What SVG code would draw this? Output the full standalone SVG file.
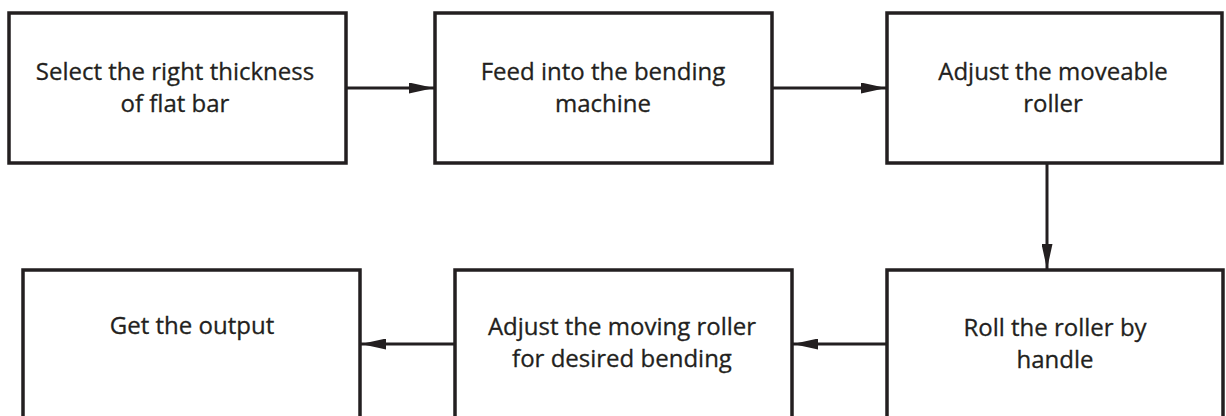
<svg xmlns="http://www.w3.org/2000/svg" width="1226" height="416" viewBox="0 0 1226 416">
<style>
.box{fill:#fff;stroke:#231f20;stroke-width:3.5}
.t{font-family:"Open Sans","Noto Sans",sans-serif;font-size:24px;fill:#231f20;stroke:#231f20;stroke-width:0.3;text-anchor:middle}
.c{stroke:#231f20;stroke-width:3;fill:none;marker-end:url(#ah)}
</style>
<defs>
<marker id="ah" viewBox="0 0 25 11" refX="25" refY="5.5" markerWidth="25" markerHeight="11" markerUnits="userSpaceOnUse" orient="auto">
<path d="M0,0 L25,5.5 L0,11 Z" fill="#231f20"/>
</marker>
</defs>
<rect width="1226" height="416" fill="#fff"/>
<g id="n1"><rect class="box" x="9" y="13" width="337" height="150"/>
<text class="t" x="175" y="80">Select the right thickness</text><text class="t" x="175" y="112">of flat bar</text></g>
<g id="n2"><rect class="box" x="435" y="13" width="337" height="150"/>
<text class="t" x="603" y="80">Feed into the bending</text><text class="t" x="603" y="112">machine</text></g>
<g id="n3"><rect class="box" x="887" y="13" width="335" height="150"/>
<text class="t" x="1053" y="80">Adjust the moveable</text><text class="t" x="1053" y="112">roller</text></g>
<g id="n4"><rect class="box" x="887" y="270" width="336" height="160"/>
<text class="t" x="1055" y="336">Roll the roller by</text><text class="t" x="1055" y="368">handle</text></g>
<g id="n5"><rect class="box" x="455" y="270" width="337" height="160"/>
<text class="t" x="622" y="335">Adjust the moving roller</text><text class="t" x="622" y="367">for desired bending</text></g>
<g id="n6"><rect class="box" x="23" y="270" width="337" height="160"/>
<text class="t" x="192" y="334">Get the output</text></g>
<g id="connectors">
<line class="c" x1="346" y1="88" x2="434" y2="88"/>
<line class="c" x1="772" y1="88" x2="886" y2="88"/>
<line class="c" x1="1047" y1="163" x2="1047" y2="269"/>
<line class="c" x1="887" y1="344" x2="793" y2="344"/>
<line class="c" x1="455" y1="344" x2="361" y2="344"/>
</g>
</svg>
